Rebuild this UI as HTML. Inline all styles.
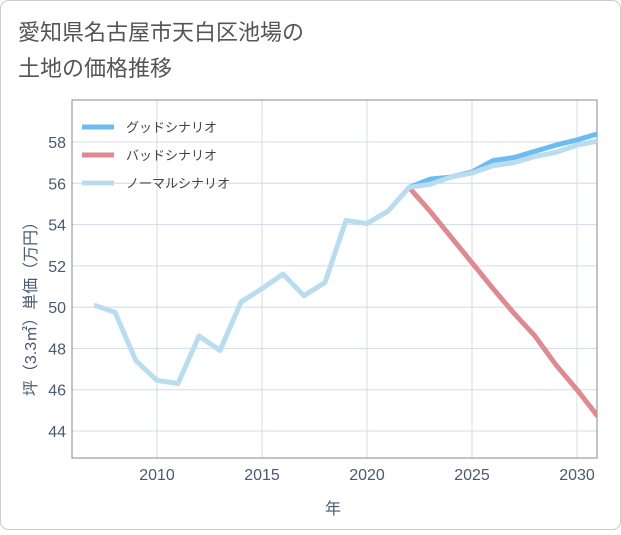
<!DOCTYPE html>
<html><head><meta charset="utf-8"><style>
body{margin:0;background:#fff;}
#wrap{position:relative;width:621px;height:530px;font-family:"Liberation Sans","Noto Sans CJK JP",sans-serif;}
</style></head><body>
<div id="wrap">
<svg id="chart" width="621" height="530"></svg>
</div>
<script>
const years=[2007,2008,2009,2010,2011,2012,2013,2014,2015,2016,2017,2018,2019,2020,2021,2022,2023,2024,2025,2026,2027,2028,2029,2030,2031];
const normal=[50.1,49.75,47.4,46.45,46.3,48.6,47.9,50.25,50.9,51.6,50.55,51.2,54.2,54.05,54.65,55.8,55.95,56.3,56.5,56.85,57.0,57.3,57.5,57.85,58.05];
const goodYears=[2022,2023,2024,2025,2026,2027,2028,2029,2030,2031];
const good=[55.8,56.2,56.3,56.55,57.1,57.25,57.55,57.85,58.1,58.4];
const bad=[55.8,54.65,53.4,52.15,50.9,49.7,48.6,47.2,46.0,44.7];
const xTicks=[2010,2015,2020,2025,2030];
const yTicks=[44,46,48,50,52,54,56,58];
const NS="http://www.w3.org/2000/svg";
const svg=document.getElementById('chart');
const L=72,R=597,T=100,B=458;
const x=v=>157+(v-2010)*21;
const y=v=>142+(58-v)*(289/14);
function mk(t,a,p){const e=document.createElementNS(NS,t);for(const k in a)e.setAttribute(k,a[k]);(p||svg).appendChild(e);return e;}
let e=mk('rect',{x:0.5,y:0.5,width:620,height:529,rx:8,fill:'#fff',stroke:'#ccc'});

e=mk('text',{x:18,y:40,'font-size':22,fill:'#555'});e.textContent='愛知県名古屋市天白区池場の';

e=mk('text',{x:18,y:76,'font-size':22,fill:'#555'});e.textContent='土地の価格推移';

for(const t of xTicks){e=mk('line',{x1:x(t),x2:x(t),y1:T,y2:B,stroke:'#d0dce8'});

e=mk('text',{x:x(t),y:480,'font-size':16,fill:'#4a5a70','text-anchor':'middle'});e.textContent=t;
}
for(const t of yTicks){e=mk('line',{x1:L,x2:R,y1:y(t),y2:y(t),stroke:'#d0dce8'});

e=mk('text',{x:66,y:y(t)+6,'font-size':16,fill:'#4a5a70','text-anchor':'end'});e.textContent=t;
}
e=mk('rect',{x:L,y:T,width:R-L,height:B-T,fill:'none',stroke:'#888','stroke-width':1});

e=mk('text',{x:333,y:514,'font-size':16,fill:'#4a5a70','text-anchor':'middle'});e.textContent='年';

e=mk('text',{x:0,y:0,'font-size':16,fill:'#4a5a70','text-anchor':'middle',transform:'translate(36,305) rotate(-90)'});e.textContent='坪（3.3㎡）単価（万円）';

const clip=mk('clipPath',{id:'c'});mk('rect',{x:L,y:T,width:R-L,height:B-T},clip);
function line(xs,vs,col,name){const d=xs.map((v,i)=>(i?'L':'M')+x(v)+','+y(vs[i])).join(' ');
const p=mk('path',{d:d,fill:'none',stroke:col,'stroke-width':5,'stroke-linejoin':'round','clip-path':'url(#c)'});
}
line(goodYears,good,'#6bbcf0','good-scenario-line');
line(goodYears,bad,'#dd8a90','bad-scenario-line');
line(years,normal,'#b9dcee','normal-scenario-line');
const leg=[['グッドシナリオ','#6bbcf0'],['バッドシナリオ','#dd8a90'],['ノーマルシナリオ','#b9dcee']];
leg.forEach((l,i)=>{const yy=127+i*28;
e=mk('line',{x1:82,x2:114,y1:yy,y2:yy,stroke:l[1],'stroke-width':5});

e=mk('text',{x:126,y:yy+5,'font-size':13,fill:'#444'});e.textContent=l[0];
});
</script>
</body></html>
